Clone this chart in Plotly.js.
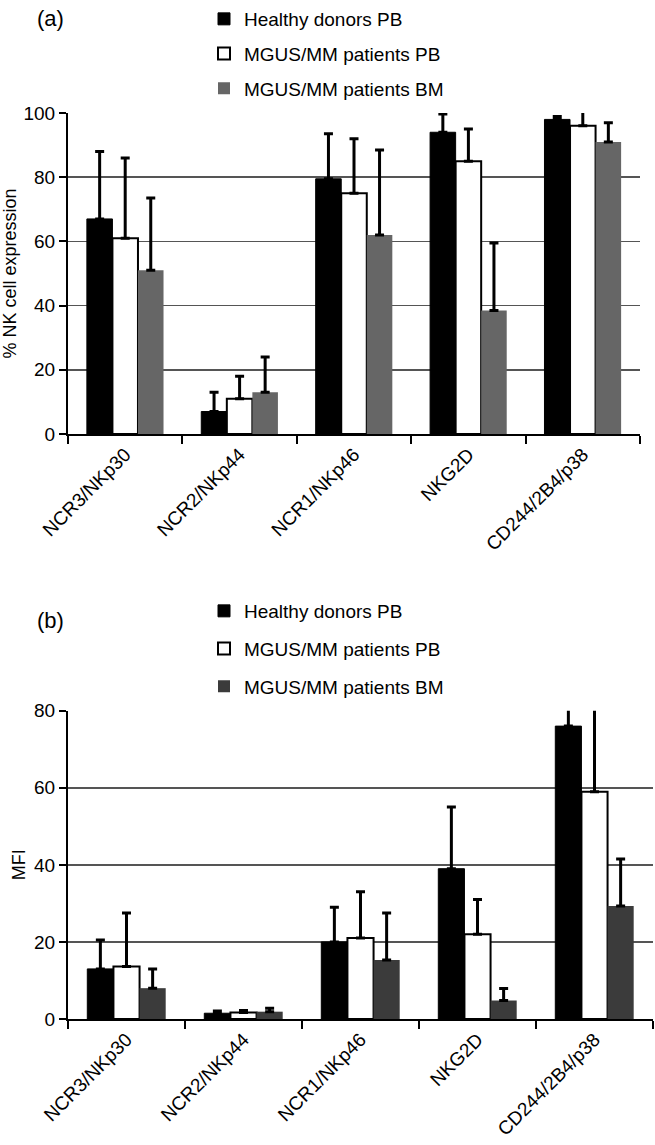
<!DOCTYPE html>
<html>
<head>
<meta charset="utf-8">
<script src="https://cdn.plot.ly/plotly-3.0.1.min.js"></script>
<style>html,body{margin:0;padding:0;background:#fff;}#chart{width:655px;height:1145px;}</style>
</head>
<body>
<div id="chart"></div>
<script>
// Categories
const categories = ["NCR3/NKp30", "NCR2/NKp44", "NCR1/NKp46", "NKG2D", "CD244/2B4/p38"];
const seriesNames = ["Healthy donors PB", "MGUS/MM patients PB", "MGUS/MM patients BM"];

// Panel (a): % NK cell expression (mean and top of error bar)
const a_healthyPB = [67, 7, 79.5, 94, 98];
const a_healthyPB_up = [88, 13, 93.5, 99.7, 98.9];
const a_patientsPB = [61, 11, 75, 85, 96];
const a_patientsPB_up = [86, 18, 92, 95, 101];
const a_patientsBM = [51, 13, 62, 38.5, 91];
const a_patientsBM_up = [73.5, 24, 88.5, 59.5, 97];

// Panel (b): MFI (mean and top of error bar)
const b_healthyPB = [13, 1.5, 20, 39, 76];
const b_healthyPB_up = [20.5, 2.1, 29, 55, 86];
const b_patientsPB = [13.6, 1.7, 21, 22, 59];
const b_patientsPB_up = [27.5, 2.2, 33, 31, 86];
const b_patientsBM = [8, 1.9, 15.3, 4.8, 29.3];
const b_patientsBM_up = [13, 2.8, 27.5, 7.9, 41.5];

const FONT = "Liberation Sans, Arial, Helvetica, sans-serif";

function diff(up, v) { return up.map((u, i) => Math.max(0, u - v[i])); }
function zeros(v) { return v.map(() => 0); }

function bar(name, vals, up, fill, lineW, xa, ya, leg, grp) {
  return {
    type: "bar", name: name, x: categories, y: vals,
    xaxis: xa, yaxis: ya, legend: leg, legendgroup: grp,
    marker: { color: fill, line: { color: "#000", width: lineW } },
    error_y: { type: "data", symmetric: false, array: diff(up, vals), arrayminus: zeros(vals),
               color: "#000", thickness: 3, width: 4.5 },
    cliponaxis: true
  };
}

const grayA = "#666666";
const grayB = "#3b3b3b";

const data = [
  bar(seriesNames[0], a_healthyPB, a_healthyPB_up, "#000", 1, "x", "y", "legend", "a1"),
  bar(seriesNames[1], a_patientsPB, a_patientsPB_up, "#fff", 2, "x", "y", "legend", "a2"),
  bar(seriesNames[2], a_patientsBM, a_patientsBM_up, grayA, 0, "x", "y", "legend", "a3"),
  bar(seriesNames[0], b_healthyPB, b_healthyPB_up, "#000", 1, "x2", "y2", "legend2", "b1"),
  bar(seriesNames[1], b_patientsPB, b_patientsPB_up, "#fff", 2, "x2", "y2", "legend2", "b2"),
  bar(seriesNames[2], b_patientsBM, b_patientsBM_up, grayB, 0, "x2", "y2", "legend2", "b3")
];

const W = 655, H = 1145;
function px2x(p) { return p / W; }
function px2y(p) { return 1 - p / H; }

const xCommon = {
  type: "category", showline: true, linecolor: "#000", linewidth: 2,
  ticks: "outside", tickson: "boundaries", ticklen: 8, tickwidth: 2, tickcolor: "#000",
  tickangle: -45, tickfont: { family: FONT, size: 19, color: "#000" },
  showgrid: false, zeroline: false, fixedrange: true
};
const yCommon = {
  showline: true, linecolor: "#000", linewidth: 2,
  ticks: "outside", ticklen: 7, tickwidth: 2, tickcolor: "#000",
  tickfont: { family: FONT, size: 19, color: "#000" },
  showgrid: true, gridcolor: "#555555", gridwidth: 1.6, zeroline: false, fixedrange: true
};

const layout = {
  width: W, height: H,
  margin: { l: 0, r: 0, t: 0, b: 0 },
  paper_bgcolor: "#fff", plot_bgcolor: "#fff",
  font: { family: FONT, color: "#000" },
  barmode: "group", bargap: 0.33, bargroupgap: 0,
  xaxis: Object.assign({}, xCommon, { domain: [px2x(68), px2x(640)], anchor: "y" }),
  yaxis: Object.assign({}, yCommon, { domain: [px2y(434), px2y(113)], anchor: "x", range: [0, 100],
    tickvals: [0, 20, 40, 60, 80, 100],
    title: { text: "% NK cell expression", font: { family: FONT, size: 18 }, standoff: 4 } }),
  xaxis2: Object.assign({}, xCommon, { domain: [px2x(68), px2x(653)], anchor: "y2" }),
  yaxis2: Object.assign({}, yCommon, { domain: [px2y(1019), px2y(710.7)], anchor: "x2", range: [0, 80],
    tickvals: [0, 20, 40, 60, 80],
    title: { text: "MFI", font: { family: FONT, size: 18 }, standoff: 4 } }),
  legend: { x: px2x(204), y: 1, xanchor: "left", yanchor: "top",
    font: { family: FONT, size: 19, color: "#000" }, traceorder: "grouped", tracegroupgap: 7,
    bgcolor: "rgba(0,0,0,0)", itemclick: false },
  legend2: { x: px2x(204), y: px2y(592), xanchor: "left", yanchor: "top",
    font: { family: FONT, size: 19, color: "#000" }, traceorder: "grouped", tracegroupgap: 10,
    bgcolor: "rgba(0,0,0,0)", itemclick: false },
  annotations: [
    { text: "(a)", xref: "paper", yref: "paper", x: px2x(50), y: px2y(18), xanchor: "center", yanchor: "middle",
      showarrow: false, font: { family: FONT, size: 22, color: "#000" } },
    { text: "(b)", xref: "paper", yref: "paper", x: px2x(50), y: px2y(620), xanchor: "center", yanchor: "middle",
      showarrow: false, font: { family: FONT, size: 22, color: "#000" } }
  ]
};

Plotly.newPlot("chart", data, layout, { displayModeBar: false, staticPlot: true });
</script>
</body>
</html>
